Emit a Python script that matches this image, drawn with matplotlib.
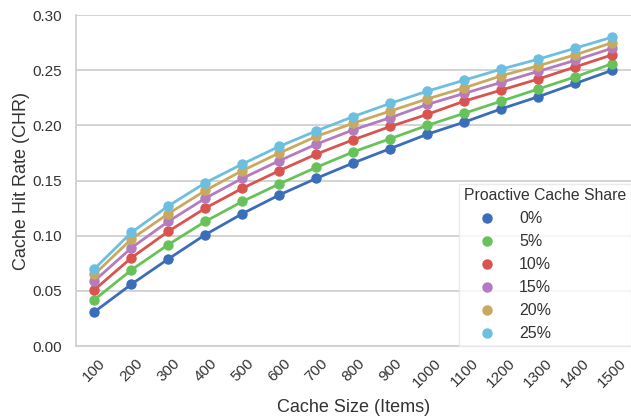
import matplotlib
matplotlib.use('Agg')
from matplotlib import pyplot as plt

# Cache sizes (x categories)
sizes = ['100', '200', '300', '400', '500', '600', '700', '800',
         '900', '1000', '1100', '1200', '1300', '1400', '1500']

# Cache hit rate per proactive share
chr_0 = [0.031, 0.056, 0.079, 0.101, 0.120, 0.137, 0.152, 0.166,
         0.179, 0.192, 0.203, 0.215, 0.226, 0.238, 0.250]
chr_5 = [0.042, 0.069, 0.092, 0.113, 0.131, 0.147, 0.162, 0.176,
         0.188, 0.200, 0.211, 0.222, 0.233, 0.244, 0.256]
chr_10 = [0.051, 0.080, 0.104, 0.125, 0.143, 0.159, 0.174, 0.187,
          0.199, 0.210, 0.222, 0.232, 0.242, 0.253, 0.264]
chr_15 = [0.059, 0.089, 0.113, 0.134, 0.152, 0.168, 0.183, 0.196,
          0.207, 0.219, 0.229, 0.239, 0.249, 0.259, 0.270]
chr_20 = [0.065, 0.097, 0.120, 0.141, 0.159, 0.175, 0.190, 0.202,
          0.213, 0.224, 0.234, 0.245, 0.254, 0.264, 0.275]
chr_25 = [0.070, 0.103, 0.127, 0.148, 0.165, 0.181, 0.195, 0.208,
          0.220, 0.231, 0.241, 0.251, 0.260, 0.270, 0.280]

shares = ['0%', '5%', '10%', '15%', '20%', '25%']
series = [chr_0, chr_5, chr_10, chr_15, chr_20, chr_25]
colors = ['#3a6dba', '#68c25a', '#d9534f', '#b57bbf', '#c9a95e', '#6dbfe0']
yticks = [0, 0.05, 0.10, 0.15, 0.20, 0.25, 0.30]

plt.rcParams['font.family'] = ['Liberation Sans', 'DejaVu Sans']

fig = plt.figure(dpi=100, figsize=(6.31, 4.19))
ax = fig.add_axes([0.1204, 0.1742, 0.8796, 0.79])

xs = list(range(len(sizes)))
for vals, lab, c in zip(series, shares, colors):
    ax.plot(xs, vals, c=c, lw=2, marker='o', ms=6.5, label=lab)

ax.set_xlim(-0.5, len(sizes) - 0.5)
ax.set_ylim(0, 0.30)
ax.set_yticks(yticks)
ax.set_yticklabels(['%.2f' % v for v in yticks])
ax.set_xticks(xs)
ax.set_xticklabels(sizes, rotation=45, ha='center', va='top')
ax.grid(axis='y', color='#d0d0d0', lw=1.3)
ax.set_axisbelow(True)
for s in ['top', 'right']:
    ax.spines[s].set_visible(False)
for s in ['left', 'bottom']:
    ax.spines[s].set_color('#d0d0d0')
    ax.spines[s].set_linewidth(1.3)
ax.tick_params(axis='both', length=0, labelsize=11, colors='#333333')
ax.tick_params(axis='y', pad=10)
ax.tick_params(axis='x', pad=7.5)

ax.set_xlabel('Cache Size (Items)', fontsize=13, color='#333333', labelpad=6)
ax.set_ylabel('Cache Hit Rate (CHR)', fontsize=13, color='#333333', labelpad=2)

leg = ax.legend(title='Proactive Cache Share', loc='lower right',
                bbox_to_anchor=(1.0, 0.0), borderaxespad=0, fontsize=11.5,
                title_fontsize=11.3, frameon=True, fancybox=False,
                handlelength=2.9, handletextpad=0.55, labelspacing=0.5,
                borderpad=0.3, alignment='left')
leg.get_frame().set_edgecolor('#e6e6e6')
for h in leg.legend_handles:
    h.set_linestyle('')
for t in leg.get_texts():
    t.set_color('#333333')
leg.get_title().set_color('#333333')

plt.savefig('out.png', dpi=100)
